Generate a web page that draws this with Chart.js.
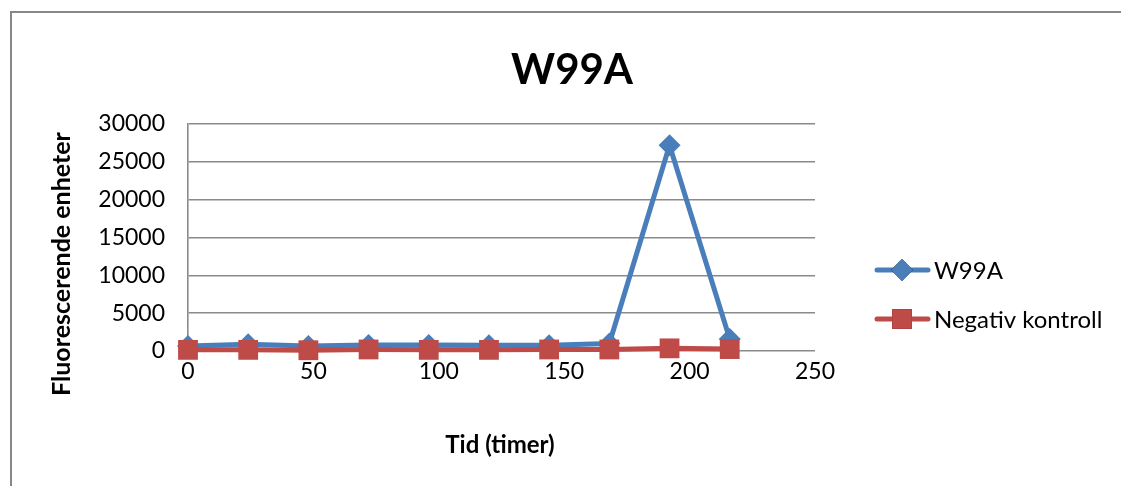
<!DOCTYPE html>
<html>
<head>
<meta charset="utf-8">
<script src="https://cdn.jsdelivr.net/npm/chart.js@4/dist/chart.umd.min.js"></script>
<style>
  html, body { margin: 0; padding: 0; background: #fff; }
  #wrap { width: 1121px; height: 486px; position: relative; }
</style>
</head>
<body>
<div id="wrap"><canvas id="c" width="1121" height="486"></canvas></div>
<script>
// Measurement times (hours) and fluorescence readings
const hours = [0, 24, 48, 72, 96, 120, 144, 168, 192, 216];
const w99a = [650, 900, 650, 800, 800, 750, 750, 1000, 27200, 1600];
const negativKontroll = [150, 150, 100, 200, 150, 150, 200, 200, 350, 250];

const seriesNames = ['W99A', 'Negativ kontroll'];
const chartTitle = 'W99A';
const xTitle = 'Tid (timer)';
const yTitle = 'Fluorescerende enheter';

const xTicks = [0, 50, 100, 150, 200, 250];
const yTicks = [0, 5000, 10000, 15000, 20000, 25000, 30000];

const FONT = 'Lato, "Open Sans", sans-serif';
const BLUE = '#4a7ebb';
const RED = '#be4b48';
const GRID = '#8a8a8a';

const toPoints = (xs, ys) => xs.map((x, i) => ({ x: x, y: ys[i] }));

// Frame, titles and legend drawn around the plot area
const decorations = {
  id: 'decorations',
  beforeDraw(chart) {
    const ctx = chart.ctx;
    ctx.save();
    ctx.fillStyle = '#fff';
    ctx.fillRect(0, 0, chart.width, chart.height);
    ctx.strokeStyle = '#878787';
    ctx.lineWidth = 2;
    ctx.beginPath();
    ctx.moveTo(11, chart.height + 2);
    ctx.lineTo(11, 12);
    ctx.lineTo(chart.width + 2, 12);
    ctx.stroke();
    ctx.restore();
  },
  afterDraw(chart) {
    const ctx = chart.ctx;
    ctx.save();
    ctx.fillStyle = '#000';
    ctx.textAlign = 'center';
    ctx.textBaseline = 'middle';

    ctx.font = 'bold 42px ' + FONT;
    ctx.fillText(chartTitle, 572, 70);

    ctx.font = 'bold 24px ' + FONT;
    ctx.fillText(xTitle, 500, 445);

    ctx.save();
    ctx.translate(62, 264);
    ctx.rotate(-Math.PI / 2);
    ctx.font = 'bold 25px ' + FONT;
    ctx.fillText(yTitle, 0, 0);
    ctx.restore();

    // legend, in the same order as the series list
    const rows = [270, 319];
    const sets = chart.data.datasets.slice().sort((a, b) => a.legendIndex - b.legendIndex);
    sets.forEach((ds, i) => {
      const y = rows[i];
      ctx.strokeStyle = ds.borderColor;
      ctx.lineWidth = ds.borderWidth;
      ctx.lineCap = 'round';
      ctx.beginPath();
      ctx.moveTo(877, y);
      ctx.lineTo(928, y);
      ctx.stroke();
      Chart.helpers.drawPoint(ctx, {
        pointStyle: ds.pointStyle,
        radius: ds.pointRadius,
        borderWidth: 0
      }, 902, y);
      ctx.fillStyle = ds.pointBackgroundColor;
      ctx.fill();
      ctx.fillStyle = '#000';
      ctx.textAlign = 'left';
      ctx.font = '24px ' + FONT;
      ctx.fillText(ds.label, 934, y + 1);
    });
    ctx.restore();
  }
};

new Chart(document.getElementById('c'), {
  type: 'scatter',
  data: {
    datasets: [
      {
        label: seriesNames[0],
        legendIndex: 0,
        order: 2,
        data: toPoints(hours, w99a),
        showLine: true,
        clip: false,
        borderColor: BLUE,
        backgroundColor: BLUE,
        pointBackgroundColor: BLUE,
        pointBorderWidth: 0,
        borderWidth: 5,
        pointStyle: 'rectRot',
        pointRadius: 11,
        tension: 0
      },
      {
        label: seriesNames[1],
        legendIndex: 1,
        order: 1,
        data: toPoints(hours, negativKontroll),
        showLine: true,
        clip: false,
        borderColor: RED,
        backgroundColor: RED,
        pointBackgroundColor: RED,
        pointBorderWidth: 0,
        borderWidth: 5,
        pointStyle: 'rect',
        pointRadius: 14,
        tension: 0
      }
    ]
  },
  options: {
    responsive: false,
    animation: false,
    events: [],
    layout: { padding: { left: 10, top: 124, right: 306, bottom: 20 } },
    plugins: {
      legend: { display: false },
      title: { display: false },
      tooltip: { enabled: false }
    },
    scales: {
      x: {
        type: 'linear',
        min: 0,
        max: 250,
        afterBuildTicks(scale) { scale.ticks = xTicks.map(v => ({ value: v })); },
        afterFit(scale) { scale.height = 115; },
        grid: { display: false, drawTicks: false },
        border: { display: false },
        ticks: {
          padding: 7,
          color: '#000',
          font: { family: FONT, size: 23 }
        }
      },
      y: {
        type: 'linear',
        min: 0,
        max: 30000,
        afterBuildTicks(scale) { scale.ticks = yTicks.map(v => ({ value: v })); },
        afterFit(scale) { scale.width = 178; },
        grid: { color: GRID, lineWidth: 1.6, drawTicks: false },
        border: { display: true, color: GRID, width: 1.6 },
        ticks: {
          padding: 23,
          color: '#000',
          font: { family: FONT, size: 23 },
          callback: v => String(v)
        }
      }
    }
  },
  plugins: [decorations]
});
</script>
</body>
</html>
